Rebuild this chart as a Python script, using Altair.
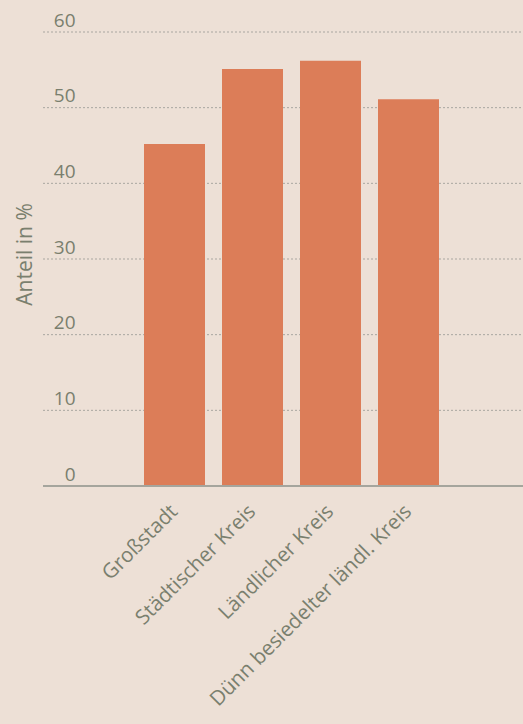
import altair as alt
import pandas as pd

categories = ["Großstadt", "Städtischer Kreis", "Ländlicher Kreis", "Dünn besiedelter ländl. Kreis"]
values = [45.2, 55.1, 56.2, 51.1]
tick_values = [0, 10, 20, 30, 40, 50, 60]
grid_values = [10, 20, 30, 40, 50, 60]
baseline_values = [0]

df = pd.DataFrame({"Kategorie": categories, "Anteil": values})
grid_df = pd.DataFrame({"Anteil": grid_values})
base_df = pd.DataFrame({"Anteil": baseline_values})

FONT = "Open Sans"
TXT = "#7a7f6e"

y_enc = alt.Y("Anteil:Q", scale=alt.Scale(domain=[0, 60]),
              axis=alt.Axis(title="Anteil in %", values=tick_values,
                            titleFont=FONT, titleFontSize=21, titleFontWeight="normal", titleColor=TXT,
                            titleAngle=-90, titleX=-18, titleY=222, titleAlign="center", titleBaseline="middle",
                            labelFont=FONT, labelFontSize=19, labelColor=TXT,
                            labelAlign="right", labelBaseline="alphabetic", labelPadding=-32, labelOffset=-6,
                            ticks=False, domain=False, grid=False))

grid = alt.Chart(grid_df).mark_rule(color="#a9a6a0", strokeDash=[2, 2], strokeWidth=1).encode(
    y=y_enc,
    x=alt.value(0),
    x2=alt.value(480),
)

bars = alt.Chart(df).mark_bar(color="#dc7d58").encode(
    x=alt.X("Kategorie:N", sort=categories,
            scale=alt.Scale(paddingInner=0.218, paddingOuter=0, range=[101, 396]),
            axis=alt.Axis(title=None, labelAngle=-45, labelAlign="right", labelBaseline="middle",
                          labelPadding=22, labelFontSize=20.5, labelFont=FONT, labelColor=TXT,
                          labelLimit=0, ticks=False, domain=False, grid=False)),
    y=y_enc,
)

baseline = alt.Chart(base_df).mark_rule(color="#a5a59d", strokeWidth=2).encode(
    y=y_enc,
    x=alt.value(0),
    x2=alt.value(480),
)

chart = alt.layer(grid, bars, baseline).properties(
    width=480, height=454,
    background="#ede0d6",
    padding={"left": 43, "top": 32, "right": 0, "bottom": 238},
    autosize=alt.AutoSizeParams(type="none"),
).configure_view(stroke=None)

chart.save("out.html", embed_options={"renderer": "svg", "actions": False})
